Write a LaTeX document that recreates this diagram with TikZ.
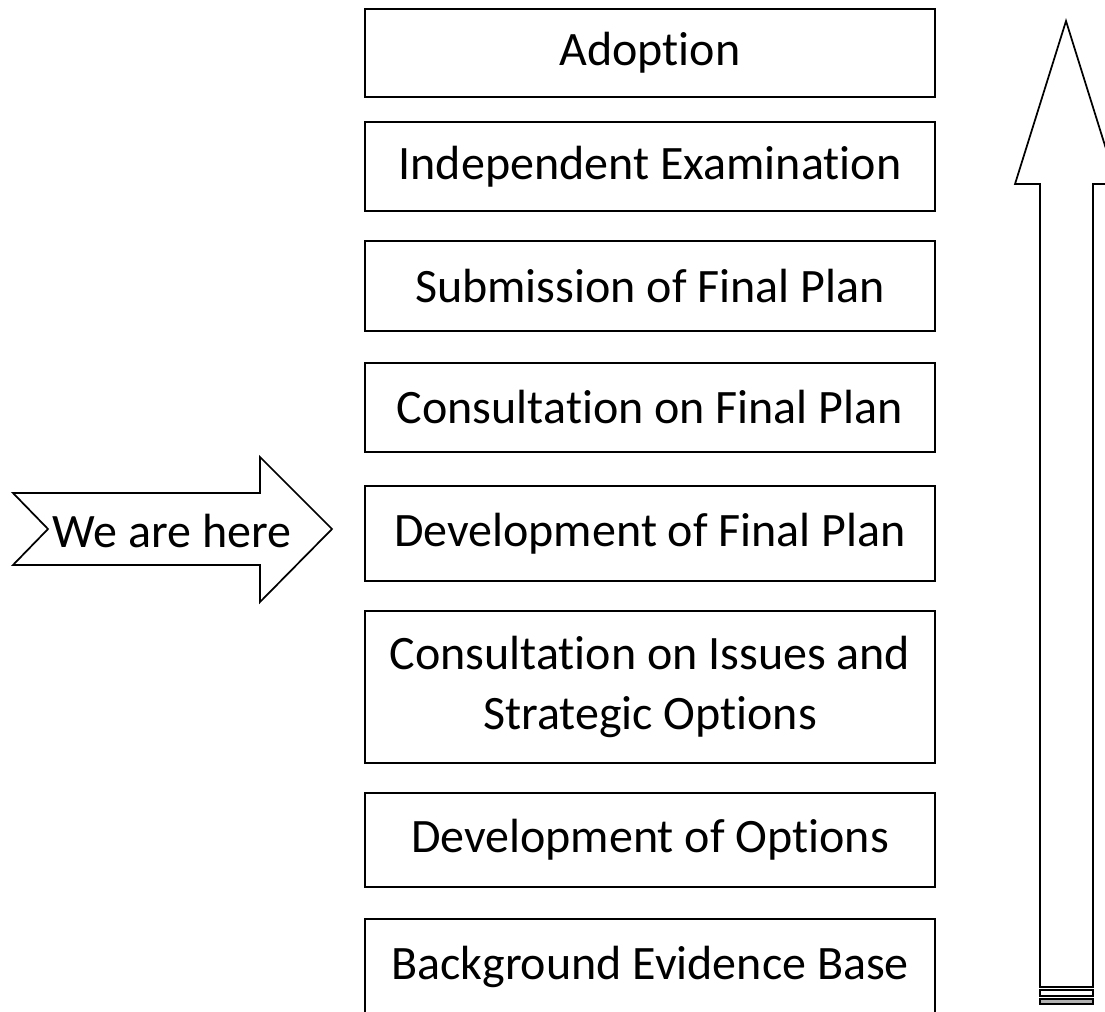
\documentclass[tikz,border=0pt]{standalone}
\usepackage{fontspec}
\setmainfont{Carlito}[Ligatures={NoCommon}]
\usetikzlibrary{positioning}
\begin{document}
\begin{tikzpicture}[x=0.75pt,y=-0.75pt,line width=1.3pt,
  stage/.style = {shape=rectangle, draw, align=center, minimum width=427.5pt,
    inner sep=0pt, font=\fontsize{36}{45}\selectfont},
  label/.style = {font=\fontsize{36}{45}\selectfont, inner sep=0pt}]

  \useasboundingbox (0,0) rectangle (1105,1011);

  % stages, bottom one cut by the page
  \node[stage, minimum height=66pt]   (adopt)   at (650,53)    {Adoption};
  \node[stage, minimum height=66.75pt] (exam)   at (650,166.5) {Independent Examination};
  \node[stage, minimum height=67.5pt] (submit)  at (650,286)   {Submission of Final Plan};
  \node[stage, minimum height=66.75pt] (consult) at (650,407.5) {Consultation on Final Plan};
  \node[stage, minimum height=71.25pt] (devplan) at (650,533.5) {Development of Final Plan};
  \node[stage, minimum height=114pt]  (issues)  at (650,687)   {Consultation on Issues and \\ Strategic Options};
  \node[stage, minimum height=70.5pt] (devopt)  at (650,840)   {Development of Options};
  \node[stage, minimum height=72pt]   (evidence) at (650,967)  {Background Evidence Base};

  % we are here
  \draw (13,493) -- (260,493) -- (260,457) -- (332,529) -- (260,602)
    -- (260,565) -- (13,565) -- (48,529) -- cycle;
  \node[label] (here) at (172,531) {We are here};

  % big arrow
  \draw (1066,21) -- (1117,184) -- (1093,184) -- (1093,987) -- (1040,987)
    -- (1040,184) -- (1015,184) -- cycle;
  \draw (1040,990) rectangle (1093,996);
  \draw[fill=gray!60] (1040,999) rectangle (1093,1004);
\end{tikzpicture}
\end{document}
